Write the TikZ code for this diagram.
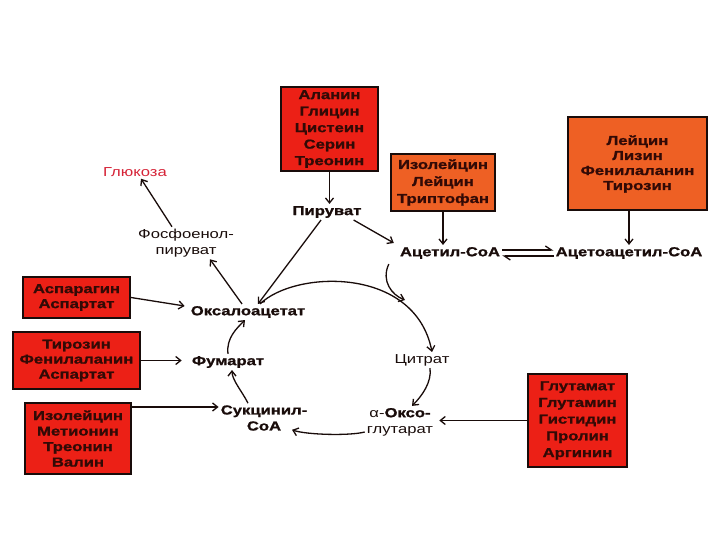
\documentclass[tikz,border=0pt]{standalone}
\usepackage{fontspec}
\setmainfont{Liberation Sans}[FakeStretch=1.28,BoldFeatures={FakeBold=1.2}]
\usetikzlibrary{arrows.meta}
\definecolor{boxred}{RGB}{236,32,22}
\definecolor{boxorange}{RGB}{238,96,36}
\definecolor{ink}{RGB}{25,12,10}
\definecolor{boxtext}{RGB}{50,10,6}
\definecolor{gluc}{RGB}{214,36,56}
\begin{document}
\begin{tikzpicture}[x=1pt,y=-1pt,
  box/.style={draw=ink,line width=2pt,inner sep=0pt,align=center,text=boxtext,
    font=\bfseries\fontsize{13}{#1}\selectfont},
  redbox/.style={box=#1,fill=boxred},
  orbox/.style={box=#1,fill=boxorange},
  met/.style={font=\bfseries\fontsize{13}{16}\selectfont,text=ink,inner sep=2pt,align=center},
  plain/.style={font=\fontsize{13}{16}\selectfont,text=ink,inner sep=2pt,align=center},
  arr/.style={draw=ink,line width=1.3pt,-{Straight Barb[length=5pt,width=8pt]}},
  harpr/.style={draw=ink,line width=1.3pt,-{Straight Barb[left,length=6pt,width=8pt]}},
]
\useasboundingbox (0,0) rectangle (720,540);
\fill[white] (0,0) rectangle (720,540);

% boxes
\node[redbox=16.5,minimum width=97pt,minimum height=84pt] (ala) at (329.5,129) {Аланин\\Глицин\\Цистеин\\Серин\\Треонин};
\node[orbox=17,minimum width=104pt,minimum height=57pt] (izo1) at (443,182.5) {Изолейцин\\Лейцин\\Триптофан};
\node[orbox=15,minimum width=139pt,minimum height=93pt] (lei) at (637.5,164) {Лейцин\\Лизин\\Фенилаланин\\Тирозин};
\node[redbox=15,minimum width=107pt,minimum height=41pt] (asp) at (76.5,297.5) {Аспарагин\\Аспартат};
\node[redbox=15,minimum width=127pt,minimum height=57pt] (tyr) at (76.5,360.5) {Тирозин\\Фенилаланин\\Аспартат};
\node[redbox=15.5,minimum width=106pt,minimum height=71pt] (izo2) at (78,438.5) {Изолейцин\\Метионин\\Треонин\\Валин};
\node[redbox=16.7,minimum width=99pt,minimum height=93pt] (glu) at (577.5,420.5) {Глутамат\\Глутамин\\Гистидин\\Пролин\\Аргинин};

% metabolites
\node[plain,text=gluc] (glc) at (135,172) {Глюкоза};
\node[plain] (pep) at (186,243) {Фосфоенол-\\пируват};
\node[met] (pir) at (327,212) {Пируват};
\node[met] (acet) at (450,253) {Ацетил-CoA};
\node[met] (acac) at (629,253) {Ацетоацетил-CoA};
\node[met] (oxa) at (248,312) {Оксалоацетат};
\node[met] (fum) at (228,362) {Фумарат};
\node[plain] (cit) at (422,360) {Цитрат};
\node[met] (suc) at (264,418) {Сукцинил-\\CoA};
\node[plain] (akg) at (400,422) {α-\textbf{Оксо-}\\глутарат};
\coordinate (acin) at (405,300);

% straight connectors
\draw[arr] (ala.south) -- (ala.south |- pir.north);
\draw[arr] ([xshift=-10pt]pir.south east) -- ([xshift=-4pt,yshift=2pt]acet.north west);
\draw[arr] ([xshift=-6pt]pir.south) -- ([xshift=10pt]oxa.north);
\draw[arr] ([xshift=-6pt]oxa.north) -- ([xshift=24pt]pep.south);
\draw[arr] ([xshift=-14pt]pep.north) -- ([xshift=6pt]glc.south);
\draw[arr] (izo1.south) -- (izo1.south |- acet.north);
\draw[arr] (acac.north |- lei.south) -- (acac.north);
\draw[harpr] ([yshift=3pt]acet.east) -- ([yshift=3pt]acet.east -| acac.west);
\draw[harpr] ([yshift=-3pt]acac.west) -- ([yshift=-3pt]acac.west -| acet.east);
\draw[arr] (asp.east) -- ([xshift=-4pt,yshift=6pt]oxa.west);
\draw[arr] (tyr.east) -- ([xshift=-8pt]tyr.east -| fum.west);
\draw[arr] ([yshift=-5pt]izo2.north east) -- ([yshift=-5pt]izo2.north east -| suc.west);
\draw[arr] (glu.west) -- ([xshift=4pt]glu.west -| akg.east);

% curved connectors
\draw[arr] ([xshift=-9pt,yshift=-3pt]acet.south west) .. controls +(-8,17) and +(-13,-5) .. (acin);
\draw[arr] ([xshift=12pt]oxa.north) .. controls (295,270) and (415,266) .. ([xshift=10pt]cit.north);
\draw[arr] ([xshift=8pt]cit.south) .. controls +(2,14) and +(10,-10) .. ([xshift=12pt]akg.north);
\draw[arr] ([yshift=-10pt]akg.west) .. controls +(-15,4) and +(14,5) .. ([xshift=28pt,yshift=3pt]suc.south);
\draw[arr] ([xshift=-16pt]suc.north) .. controls +(-6,-12) and +(0,10) .. ([xshift=4pt]fum.south);
\draw[arr] (fum.north) .. controls +(-2,-16) and +(-8,8) .. ([xshift=-3pt]oxa.south);
\end{tikzpicture}
\end{document}
